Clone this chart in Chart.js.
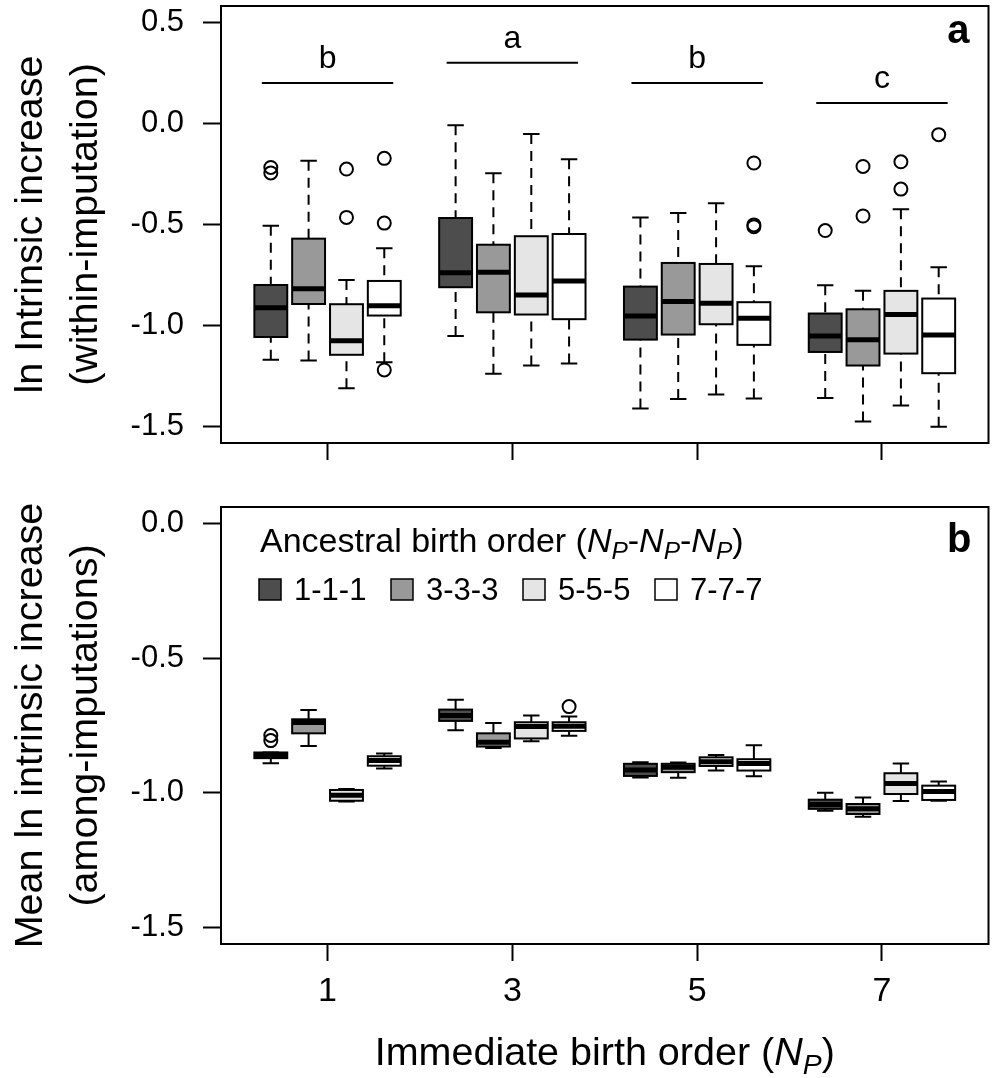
<!DOCTYPE html>
<html>
<head>
<meta charset="utf-8">
<script src="https://cdn.jsdelivr.net/npm/chart.js@4.4.1/dist/chart.umd.min.js"></script>
<style>
  html, body { margin: 0; padding: 0; background: #fff; }
  body { width: 997px; height: 1078px; position: relative; overflow: hidden; }
  .panel { position: absolute; left: 0; }
  #wrapA { top: -40px; }
  #wrapB { top: 465px; }
</style>
</head>
<body>
<div class="panel" id="wrapA"><canvas id="chartA" width="997" height="520"></canvas></div>
<div class="panel" id="wrapB"><canvas id="chartB" width="997" height="613"></canvas></div>
<script>
// categories
const npValues = [1, 3, 5, 7];
const npLabels = ['1', '3', '5', '7'];
const ancestral = ['1-1-1', '3-3-3', '5-5-5', '7-7-7'];
const yTicksA = [-1.5, -1.0, -0.5, 0.0, 0.5];
const yTicksB = [-1.5, -1.0, -0.5, 0.0];

// panel a, within-imputation: [lower whisker, Q1, median, Q3, upper whisker] for NP = 1,3,5,7
const withinA111 = [[-1.169, -1.056, -0.912, -0.799, -0.506], [-1.051, -0.810, -0.738, -0.468, -0.009], [-1.410, -1.069, -0.952, -0.807, -0.465], [-1.357, -1.130, -1.051, -0.940, -0.800]];
const withinA333 = [[-1.172, -0.893, -0.817, -0.570, -0.185], [-1.238, -0.934, -0.736, -0.600, -0.247], [-1.362, -1.044, -0.881, -0.690, -0.443], [-1.474, -1.197, -1.070, -0.919, -0.828]];
const withinA555 = [[-1.309, -1.144, -1.074, -0.894, -0.774], [-1.197, -0.945, -0.848, -0.558, -0.053], [-1.340, -0.993, -0.889, -0.695, -0.395], [-1.395, -1.138, -0.945, -0.828, -0.425]];
const withinA777 = [[-1.181, -0.950, -0.902, -0.779, -0.618], [-1.187, -0.968, -0.779, -0.547, -0.177], [-1.360, -1.095, -0.963, -0.884, -0.706], [-1.500, -1.235, -1.046, -0.866, -0.711]];
// outliers
const withinOut111 = [[-0.218, -0.245], [], [], [-0.530]];
const withinOut333 = [[], [], [], [-0.213, -0.458]];
const withinOut555 = [[-0.226, -0.465], [], [], [-0.190, -0.325]];
const withinOut777 = [[-0.173, -0.493, -1.219], [], [-0.196, -0.502, -0.511], [-0.056]];

// panel b, among-imputations
const amongB111 = [[-0.890, -0.871, -0.861, -0.850, -0.850], [-0.768, -0.733, -0.713, -0.691, -0.655], [-0.943, -0.937, -0.915, -0.892, -0.886], [-1.066, -1.059, -1.043, -1.025, -0.999]];
const amongB333 = [[-0.826, -0.779, -0.739, -0.727, -0.693], [-0.833, -0.828, -0.812, -0.779, -0.741], [-0.944, -0.923, -0.905, -0.892, -0.887], [-1.088, -1.078, -1.059, -1.041, -1.017]];
const amongB555 = [[-1.032, -1.029, -1.009, -0.989, -0.985], [-0.808, -0.798, -0.754, -0.738, -0.713], [-0.917, -0.900, -0.884, -0.868, -0.859], [-1.030, -1.004, -0.965, -0.927, -0.891]];
const amongB777 = [[-0.909, -0.899, -0.880, -0.864, -0.854], [-0.788, -0.770, -0.753, -0.738, -0.717], [-0.938, -0.917, -0.891, -0.875, -0.823], [-1.029, -1.026, -0.995, -0.973, -0.958]];
const amongOut111 = [[-0.787, -0.806], [], [], []];
const amongOut333 = [[], [], [], []];
const amongOut555 = [[], [], [], []];
const amongOut777 = [[], [-0.680], [], []];

// significance groups (panel a)
const sigLetters = ['b', 'a', 'b', 'c'];
const sigLevels = [0.2, 0.3, 0.2, 0.1];

// layout / style
const FONT = "'Liberation Sans', Arial, Helvetica, sans-serif";
const fills = ['#4d4d4d', '#999999', '#e5e5e5', '#ffffff'];
const offsets = [-0.614, -0.205, 0.205, 0.614];
const boxHalf = 0.178, capHalf = 0.089, sigHalf = 0.711;

Chart.defaults.font.family = FONT;
Chart.defaults.color = '#000';

function drawRich(ctx, parts, x, y, size, align) {
  const fontFor = p => (p.it ? 'italic ' : '') + (p.sub ? size * 0.72 : size).toFixed(1) + 'px ' + FONT;
  let w = 0;
  parts.forEach(p => { ctx.font = fontFor(p); w += ctx.measureText(p.t).width; });
  let cx = align === 'center' ? x - w / 2 : x;
  ctx.textAlign = 'left';
  ctx.textBaseline = 'alphabetic';
  parts.forEach(p => {
    ctx.font = fontFor(p);
    ctx.fillText(p.t, cx, y + (p.sub ? size * 0.22 : 0));
    cx += ctx.measureText(p.t).width;
  });
}

function makeBoxPlugin(stats, dash) {
  return {
    id: 'boxes',
    beforeDatasetsDraw(chart) {
      const {ctx, scales: {x, y}} = chart;
      const hw = x.getPixelForValue(boxHalf) - x.getPixelForValue(0);
      const cw = x.getPixelForValue(capHalf) - x.getPixelForValue(0);
      ctx.save();
      ctx.strokeStyle = '#000';
      stats.forEach((ser, s) => {
        ser.forEach((st, g) => {
          const cx = x.getPixelForValue(npValues[g] + offsets[s]);
          const [lo, q1, med, q3, hi] = st.map(v => y.getPixelForValue(v));
          ctx.lineWidth = 2;
          ctx.setLineDash(dash);
          ctx.beginPath();
          ctx.moveTo(cx, hi); ctx.lineTo(cx, q3);
          ctx.moveTo(cx, lo); ctx.lineTo(cx, q1);
          ctx.stroke();
          ctx.setLineDash([]);
          ctx.beginPath();
          ctx.moveTo(cx - cw, hi); ctx.lineTo(cx + cw, hi);
          ctx.moveTo(cx - cw, lo); ctx.lineTo(cx + cw, lo);
          ctx.stroke();
          ctx.fillStyle = fills[s];
          ctx.fillRect(cx - hw, q3, 2 * hw, q1 - q3);
          ctx.strokeRect(cx - hw, q3, 2 * hw, q1 - q3);
          ctx.lineWidth = 5;
          ctx.beginPath();
          ctx.moveTo(cx - hw, med); ctx.lineTo(cx + hw, med);
          ctx.stroke();
        });
      });
      ctx.restore();
    },
    afterDraw(chart) {
      const {ctx, chartArea: a} = chart;
      ctx.save();
      ctx.strokeStyle = '#000';
      ctx.lineWidth = 2;
      ctx.strokeRect(a.left, a.top, a.right - a.left, a.bottom - a.top);
      ctx.restore();
    }
  };
}

function outlierSets(outs) {
  return outs.map((ser, s) => ({
    label: ancestral[s],
    data: ser.flatMap((vals, g) => vals.map(v => ({x: npValues[g] + offsets[s], y: v}))),
    pointRadius: 6.5,
    pointHoverRadius: 6.5,
    pointBorderWidth: 2,
    pointBorderColor: '#000',
    pointBackgroundColor: 'rgba(255,255,255,0)'
  }));
}

function yAxis(min, max, ticks, title) {
  return {
    min: min, max: max,
    afterBuildTicks: s => { s.ticks = ticks.map(v => ({value: v})); },
    afterFit: s => { s.width = 221; },
    grid: {drawOnChartArea: false, drawTicks: true, tickLength: 18, tickColor: '#000', tickWidth: 2},
    border: {display: false},
    ticks: {padding: 19, font: {size: 31, lineHeight: 1}, color: '#000', autoSkip: false,
      callback: v => v.toFixed(1)},
    title: {display: true, text: title, color: '#000',
      font: {size: 39.5, lineHeight: 55 / 39.5}, padding: {top: 4, bottom: 0}}
  };
}

function xAxis(height, showLabels) {
  return {
    min: -0.153, max: 8.153,
    afterBuildTicks: s => { s.ticks = npValues.map(v => ({value: v})); },
    afterFit: s => { s.height = height; },
    grid: {drawOnChartArea: false, drawTicks: true, tickLength: 17, tickColor: '#000', tickWidth: 2},
    border: {display: false},
    ticks: {display: showLabels, padding: 14, font: {size: 34, lineHeight: 1}, color: '#000',
      autoSkip: false, maxRotation: 0, callback: (v, i) => npLabels[i]}
  };
}

const sigPlugin = {
  id: 'sig',
  afterDatasetsDraw(chart) {
    const {ctx, scales: {x, y}, chartArea: a} = chart;
    ctx.save();
    ctx.strokeStyle = '#000';
    ctx.fillStyle = '#000';
    ctx.lineWidth = 2;
    ctx.font = '32px ' + FONT;
    ctx.textAlign = 'center';
    ctx.textBaseline = 'alphabetic';
    sigLetters.forEach((t, i) => {
      const py = y.getPixelForValue(sigLevels[i]);
      ctx.beginPath();
      ctx.moveTo(x.getPixelForValue(npValues[i] - sigHalf), py);
      ctx.lineTo(x.getPixelForValue(npValues[i] + sigHalf), py);
      ctx.stroke();
      ctx.fillText(t, x.getPixelForValue(npValues[i]), y.getPixelForValue(sigLevels[i] + 0.074));
    });
    ctx.font = 'bold 40px ' + FONT;
    ctx.textAlign = 'right';
    ctx.fillText('a', a.right - 19, a.top + 37);
    ctx.restore();
  }
};

const legendPlugin = {
  id: 'legendB',
  afterDatasetsDraw(chart) {
    const {ctx, chartArea: a} = chart;
    ctx.save();
    ctx.fillStyle = '#000';
    drawRich(ctx, [
      {t: 'Ancestral birth order ('},
      {t: 'N', it: true}, {t: 'P', it: true, sub: true}, {t: '-'},
      {t: 'N', it: true}, {t: 'P', it: true, sub: true}, {t: '-'},
      {t: 'N', it: true}, {t: 'P', it: true, sub: true}, {t: ')'}
    ], a.left + 39, a.top + 45, 34, 'left');
    ancestral.forEach((lab, s) => {
      const lx = a.left + 38 + s * 132;
      ctx.fillStyle = fills[s];
      ctx.fillRect(lx, a.top + 72, 22, 21);
      ctx.strokeStyle = '#000';
      ctx.lineWidth = 1.5;
      ctx.strokeRect(lx, a.top + 72, 22, 21);
      ctx.fillStyle = '#000';
      ctx.font = '31px ' + FONT;
      ctx.textAlign = 'left';
      ctx.textBaseline = 'alphabetic';
      ctx.fillText(lab, lx + 35, a.top + 93);
    });
    ctx.font = 'bold 40px ' + FONT;
    ctx.textAlign = 'right';
    ctx.fillText('b', a.right - 17, a.top + 45);
    // x axis title
    drawRich(ctx, [
      {t: 'Immediate birth order ('},
      {t: 'N', it: true}, {t: 'P', it: true, sub: true}, {t: ')'}
    ], (a.left + a.right) / 2, chart.height - 13, 39.5, 'center');
    ctx.restore();
  }
};

new Chart(document.getElementById('chartA'), {
  type: 'scatter',
  data: {datasets: outlierSets([withinOut111, withinOut333, withinOut555, withinOut777])},
  options: {
    responsive: false,
    animation: false,
    layout: {padding: {top: 46, right: 5, left: 0, bottom: 0}},
    plugins: {legend: {display: false}, tooltip: {enabled: false}},
    scales: {
      x: xAxis(37, false),
      y: yAxis(-1.58, 0.58, yTicksA, ['ln Intrinsic increase', '(within-imputation)'])
    }
  },
  plugins: [makeBoxPlugin([withinA111, withinA333, withinA555, withinA777], [10, 7]), sigPlugin]
});

new Chart(document.getElementById('chartB'), {
  type: 'scatter',
  data: {datasets: outlierSets([amongOut111, amongOut333, amongOut555, amongOut777])},
  options: {
    responsive: false,
    animation: false,
    layout: {padding: {top: 42, right: 5, left: 0, bottom: 0}},
    plugins: {legend: {display: false}, tooltip: {enabled: false}},
    scales: {
      x: xAxis(134, true),
      y: yAxis(-1.56, 0.06, yTicksB, ['Mean ln intrinsic increase', '(among-imputations)'])
    }
  },
  plugins: [makeBoxPlugin([amongB111, amongB333, amongB555, amongB777], []), legendPlugin]
});
</script>
</body>
</html>
